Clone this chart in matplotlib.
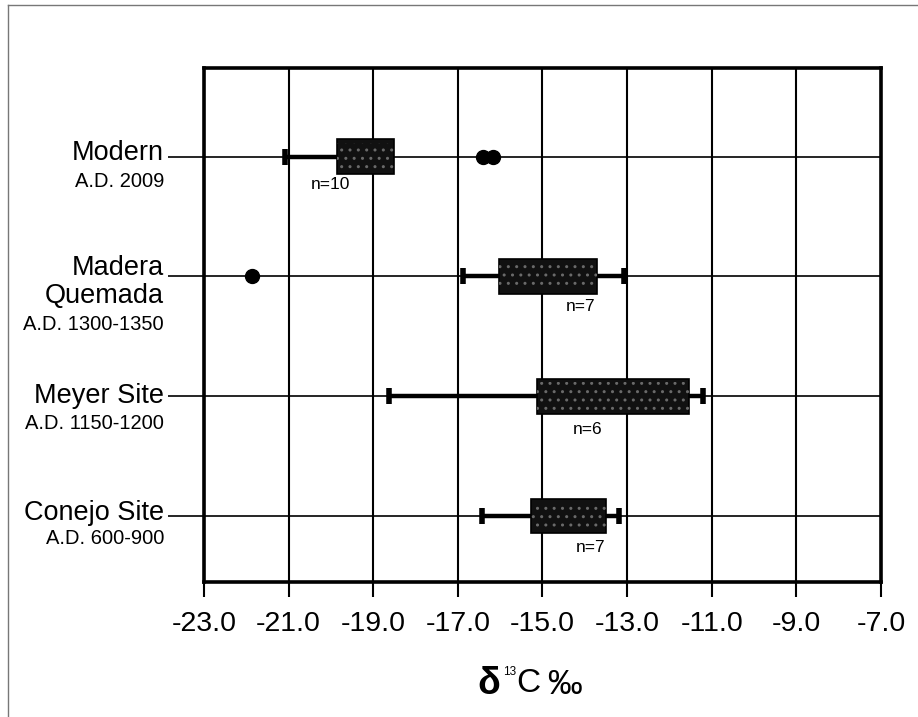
import matplotlib
matplotlib.use("Agg")
import matplotlib.pyplot as plt
from matplotlib.lines import Line2D

plt.rcParams['font.family'] = ['Liberation Sans', 'DejaVu Sans']

# ---- data ----
sites = ["Modern", "Madera\nQuemada", "Meyer Site", "Conejo Site"]
periods = ["A.D. 2009", "A.D. 1300-1350", "A.D. 1150-1200", "A.D. 600-900"]
whisker_low = [-21.08, -16.89, -18.62, -16.44]
q1 = [-19.86, -16.02, -15.13, -15.28]
q3 = [-18.50, -13.71, -11.54, -13.49]
whisker_high = [-18.50, -13.07, -11.20, -13.19]
outliers = [[-16.40, -16.18], [-21.87], [], []]
n_labels = ["n=10", "n=7", "n=6", "n=7"]
xticks = [-23.0, -21.0, -19.0, -17.0, -15.0, -13.0, -11.0, -9.0, -7.0]
xtick_labels = ["-23.0", "-21.0", "-19.0", "-17.0", "-15.0", "-13.0", "-11.0", "-9.0", "-7.0"]
xlabel_parts = ["δ", "13", "C", "‰"]

# ---- layout ----
W, H = 918, 717
ypos = [4, 3, 2, 1]
n_text_x = [-20.02, -14.10, -13.94, -13.86]
n_text_dy = [-0.23, -0.25, -0.28, -0.26]
box_h = 0.29

fig = plt.figure(figsize=(W / 100, H / 100), dpi=100)
ax = fig.add_axes([0.2222, 0.1883, 0.9597 - 0.2222, 0.9052 - 0.1883])

ax.set_xlim(-23, -7)
ax.set_ylim(0.45, 4.74)

# grid
for x in xticks:
    ax.axvline(x, color='black', lw=1.5, zorder=1)
for y in ypos:
    ax.axhline(y, color='black', lw=1.2, zorder=1)

for i, y in enumerate(ypos):
    # whiskers
    ax.hlines(y, whisker_low[i], q1[i], color='black', lw=3.2, zorder=2)
    ax.hlines(y, q3[i], whisker_high[i], color='black', lw=3.2, zorder=2)
    # caps
    caps = [whisker_low[i]]
    if whisker_high[i] != q3[i]:
        caps.append(whisker_high[i])
    ax.plot(caps, [y] * len(caps), linestyle='none', marker='|', markersize=12,
            markeredgewidth=4, color='black', zorder=3)
    # box
    ax.barh(y, q3[i] - q1[i], left=q1[i], height=box_h, color='#111111',
            edgecolor='black', lw=1.2, zorder=4)
    ax.barh(y, q3[i] - q1[i], left=q1[i], height=box_h * 0.8, color='none',
            edgecolor='#6a6a6a', hatch='..', lw=0, zorder=5)
    # outliers
    if outliers[i]:
        ax.plot(outliers[i], [y] * len(outliers[i]), linestyle='none', marker='o',
                markersize=10, color='black', zorder=6)
    # n labels
    ax.text(n_text_x[i], y + n_text_dy[i], n_labels[i], ha='center', va='center',
            fontsize=12.5, zorder=7)

# ticks
ax.set_xticks(xticks)
ax.set_xticklabels(xtick_labels, fontsize=20.5)
ax.tick_params(axis='x', direction='out', length=10.8, width=1.5, pad=10)
ax.set_yticks(ypos)
ax.set_yticklabels([])
ax.tick_params(axis='y', direction='out', length=26, width=1.2)

for s in ax.spines.values():
    s.set_linewidth(2.6)

# y labels (site name + period); offsets in pixels below the tick line
main_off = [-4, 6, 0, -3]
for i, y in enumerate(ypos):
    ax.annotate(sites[i], xy=(-0.059, y), xycoords=('axes fraction', 'data'),
                xytext=(0, -main_off[i]), textcoords='offset pixels',
                ha='right', va='center', fontsize=19.5, linespacing=1.1)
sub_off = [25, 48, 27, 22]
for i, y in enumerate(ypos):
    ax.annotate(periods[i], xy=(-0.059, y), xycoords=('axes fraction', 'data'),
                xytext=(0, -sub_off[i]), textcoords='offset pixels',
                ha='right', va='center', fontsize=14.5)

# x label, built from pieces (pixel positions of the reference)
def ftext(px, py, s, **kw):
    fig.text(px / W, 1 - py / H, s, ha='center', va='center', **kw)

ftext(489, 684, xlabel_parts[0], fontsize=27, fontweight='bold')
ftext(510, 672, xlabel_parts[1], fontsize=8.5)
ftext(528, 683, xlabel_parts[2], fontsize=24)
ftext(565, 684, xlabel_parts[3], fontsize=25)

# scan frame
fig.add_artist(Line2D([0.009, 0.009], [0, 0.993], transform=fig.transFigure,
                      color='#777777', lw=1))
fig.add_artist(Line2D([0.009, 1.0], [0.993, 0.993], transform=fig.transFigure,
                      color='#777777', lw=1))

fig.savefig("out.png", dpi=100)
